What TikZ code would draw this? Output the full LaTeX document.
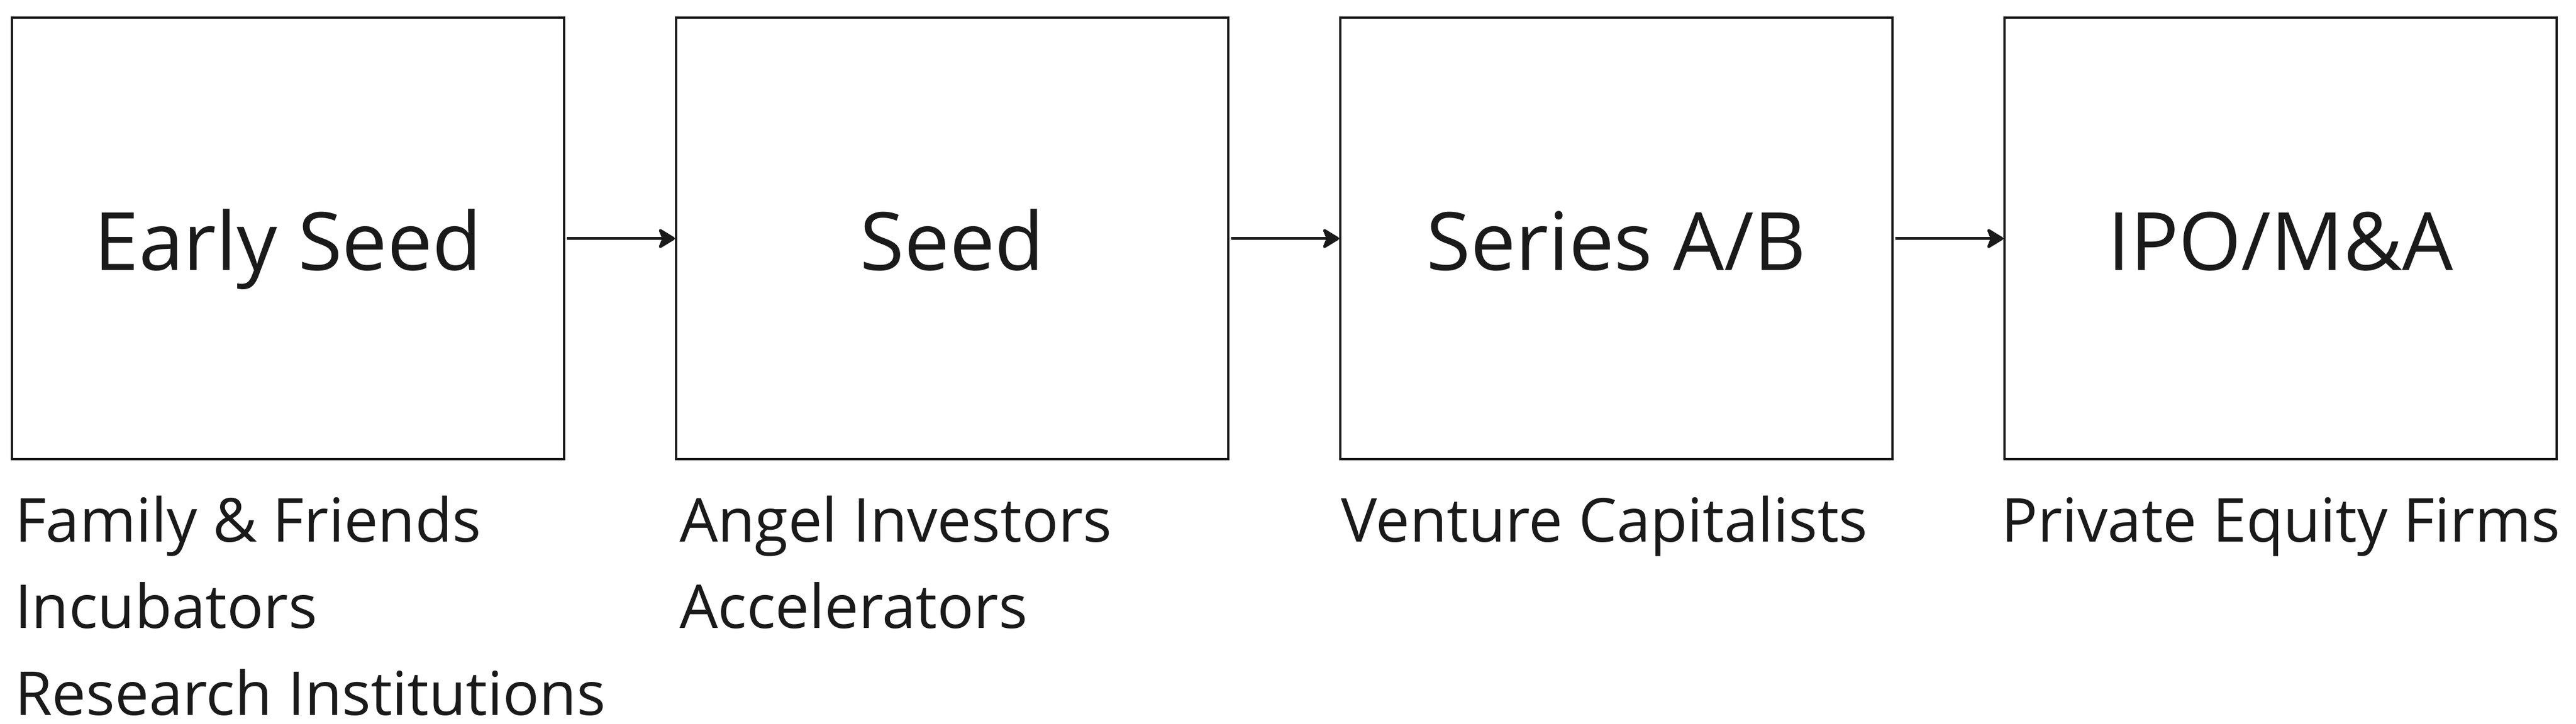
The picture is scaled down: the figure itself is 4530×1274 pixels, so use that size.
\documentclass[tikz,border=0pt]{standalone}
\usepackage{fontspec}
\setmainfont{Open Sans}
\usetikzlibrary{arrows.meta}
\definecolor{ink}{HTML}{1A1A1A}
\begin{document}
\begin{tikzpicture}[x=0.2pt,y=-0.2pt,
  stage/.style={draw=ink, line width=0.8pt, minimum width=194.2pt, minimum height=155.3pt,
    inner sep=0pt, text=ink, font=\fontsize{28.3pt}{34pt}\selectfont,
    text height=22.4pt, text depth=0pt},
  funders/.style={anchor=base west, inner sep=0pt, align=left, text=ink,
    font=\fontsize{21.3pt}{30.5pt}\selectfont},
  conn/.style={draw=ink, line width=1pt, shorten <=0.6pt,
    -{Stealth[length=6.6pt, width=8pt, inset=1.6pt, round]}}]
\useasboundingbox (0,0) rectangle (4530,1274);
\node[stage] (b1) at (506.5,419.75) {Early Seed};
\node[stage] (b2) at (1674.5,419.75) {Seed};
\node[stage] (b3) at (2842.5,419.75) {Series A/B};
\node[stage] (b4) at (4010.5,419.75) {IPO/M\&A};
% base anchor of a multi-line node is its last line
\node[funders] (l1) at (25,1258.5) {Family \& Friends\\Incubators\\Research Institutions};
\node[funders] (l2) at (1194,1106) {Angel Investors\\Accelerators};
\node[funders] (l3) at (2357,953.5) {Venture Capitalists};
\node[funders] (l4) at (3518,953.5) {Private Equity Firms};
\draw[conn] (b1) -- (b2);
\draw[conn] (b2) -- (b3);
\draw[conn] (b3) -- (b4);
\end{tikzpicture}
\end{document}
